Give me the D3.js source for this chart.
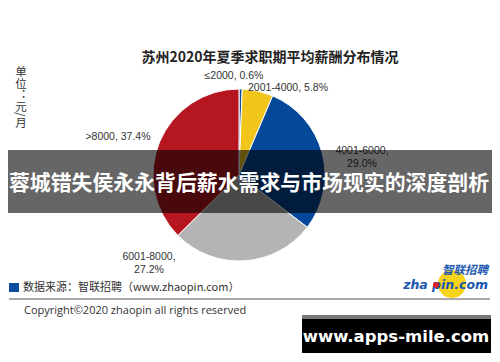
<!DOCTYPE html>
<html>
<head>
<meta charset="utf-8">
<script src="https://cdn.jsdelivr.net/npm/d3@7"></script>
<style>
  body { margin: 0; background: #fff; }
  svg { display: block; font-family: "Noto Sans CJK SC", "DejaVu Sans", sans-serif; }
</style>
</head>
<body>
<div id="grafico"></div>
<script>
// Dados do gráfico
const faixas = ["≤2000", "2001-4000", "4001-6000", "6001-8000", ">8000"];
const percentuais = [0.6, 5.8, 29.0, 27.2, 37.4];
const cores = ["#0a4c97", "#f2c51a", "#04489a", "#b4b4b6", "#b5161f"];

const largura = 500, altura = 362;

const svg = d3.select("#grafico")
  .append("svg")
  .attr("width", largura)
  .attr("height", altura);

// Título
svg.append("text")
  .attr("x", 270).attr("y", 62)
  .attr("text-anchor", "middle")
  .attr("font-size", 14).attr("font-weight", "bold")
  .attr("fill", "#222")
  .text("苏州2020年夏季求职期平均薪酬分布情况");

// Unidade vertical
svg.append("text")
  .attr("x", 21).attr("y", 66)
  .attr("font-size", 11.5).attr("fill", "#333")
  .style("writing-mode", "vertical-rl")
  .text("单位：元/月");

// Pizza
const cx = 239, cy = 175, raio = 86;
const dados = faixas.map((f, i) => ({ faixa: f, valor: percentuais[i], cor: cores[i] }));

const pie = d3.pie().sort(null).value(d => d.valor);
const arco = d3.arc().innerRadius(0).outerRadius(raio);

const g = svg.append("g").attr("transform", `translate(${cx},${cy})`);
g.selectAll("path")
  .data(pie(dados))
  .join("path")
  .attr("d", arco)
  .attr("fill", d => d.data.cor)
  .attr("stroke", "#fff")
  .attr("stroke-width", 1);

// Rótulos (posição ajustada à mão como no original)
const posRotulos = [
  { x: 234, y: 79, linhas: 1 },
  { x: 288, y: 91, linhas: 1 },
  { x: 362, y: 154, linhas: 2 },
  { x: 149, y: 260, linhas: 2 },
  { x: 118, y: 140, linhas: 1 }
];
dados.forEach((d, i) => {
  const p = posRotulos[i];
  const t = svg.append("text")
    .attr("text-anchor", "middle")
    .attr("font-size", 10.5)
    .attr("fill", "#333")
    .attr("font-family", "'Liberation Sans', 'DejaVu Sans', sans-serif");
  if (p.linhas === 1) {
    t.append("tspan").attr("x", p.x).attr("y", p.y).text(`${d.faixa}, ${d.valor.toFixed(1)}%`);
  } else {
    t.append("tspan").attr("x", p.x).attr("y", p.y).text(`${d.faixa},`);
    t.append("tspan").attr("x", p.x).attr("y", p.y + 13).text(`${d.valor.toFixed(1)}%`);
  }
});

// Faixa escura com título sobreposto
svg.append("rect")
  .attr("x", 8).attr("y", 150)
  .attr("width", 484).attr("height", 63)
  .attr("fill", "#000").attr("opacity", 0.6);
svg.append("text")
  .attr("x", 249).attr("y", 190)
  .attr("text-anchor", "middle")
  .attr("font-size", 21).attr("font-weight", "bold")
  .attr("textLength", 480).attr("lengthAdjust", "spacingAndGlyphs")
  .attr("fill", "#fff")
  .text("蓉城错失侯永永背后薪水需求与市场现实的深度剖析");

// Fonte dos dados
svg.append("rect")
  .attr("x", 9).attr("y", 283).attr("width", 10).attr("height", 9)
  .attr("fill", "#0a4ca0");
svg.append("text")
  .attr("x", 23).attr("y", 291)
  .attr("font-size", 11).attr("fill", "#333")
  .text("数据来源：智联招聘（www.zhaopin.com）");

svg.append("line")
  .attr("x1", 9).attr("x2", 490)
  .attr("y1", 299).attr("y2", 299)
  .attr("stroke", "#555").attr("stroke-width", 1);

svg.append("text")
  .attr("x", 24).attr("y", 314)
  .attr("font-size", 11).attr("fill", "#333")
  .attr("font-family", "'Open Sans', 'DejaVu Sans', sans-serif")
  .text("Copyright©2020 zhaopin all rights reserved");

// Logo zhaopin (aproximado)
const logo = svg.append("g");
logo.append("circle").attr("cx", 452).attr("cy", 284).attr("r", 14).attr("fill", "#f8d31c");
logo.append("text")
  .attr("x", 488).attr("y", 274)
  .attr("text-anchor", "end")
  .attr("font-size", 11.5).attr("font-weight", "bold").attr("font-style", "italic")
  .attr("fill", "#1a57b0")
  .text("智联招聘");
logo.append("text")
  .attr("x", 488).attr("y", 289)
  .attr("text-anchor", "end")
  .attr("font-size", 12.5).attr("font-weight", "bold").attr("font-style", "italic")
  .attr("font-family", "'DejaVu Sans', sans-serif")
  .attr("fill", "#1a57b0")
  .text("zha  pin.com");
logo.append("circle").attr("cx", 436).attr("cy", 285).attr("r", 3).attr("fill", "#d8232a");

// Marca d'água
svg.append("rect")
  .attr("x", 302).attr("y", 315).attr("width", 189).attr("height", 38)
  .attr("fill", "#000");
svg.append("rect")
  .attr("x", 302).attr("y", 315).attr("width", 189).attr("height", 4)
  .attr("fill", "#777");
svg.append("text")
  .attr("x", 396).attr("y", 342)
  .attr("text-anchor", "middle")
  .attr("font-size", 16.5).attr("font-weight", "bold")
  .attr("font-family", "'DejaVu Sans', sans-serif")
  .attr("fill", "#fff")
  .text("www.apps-mile.com");
</script>
</body>
</html>
